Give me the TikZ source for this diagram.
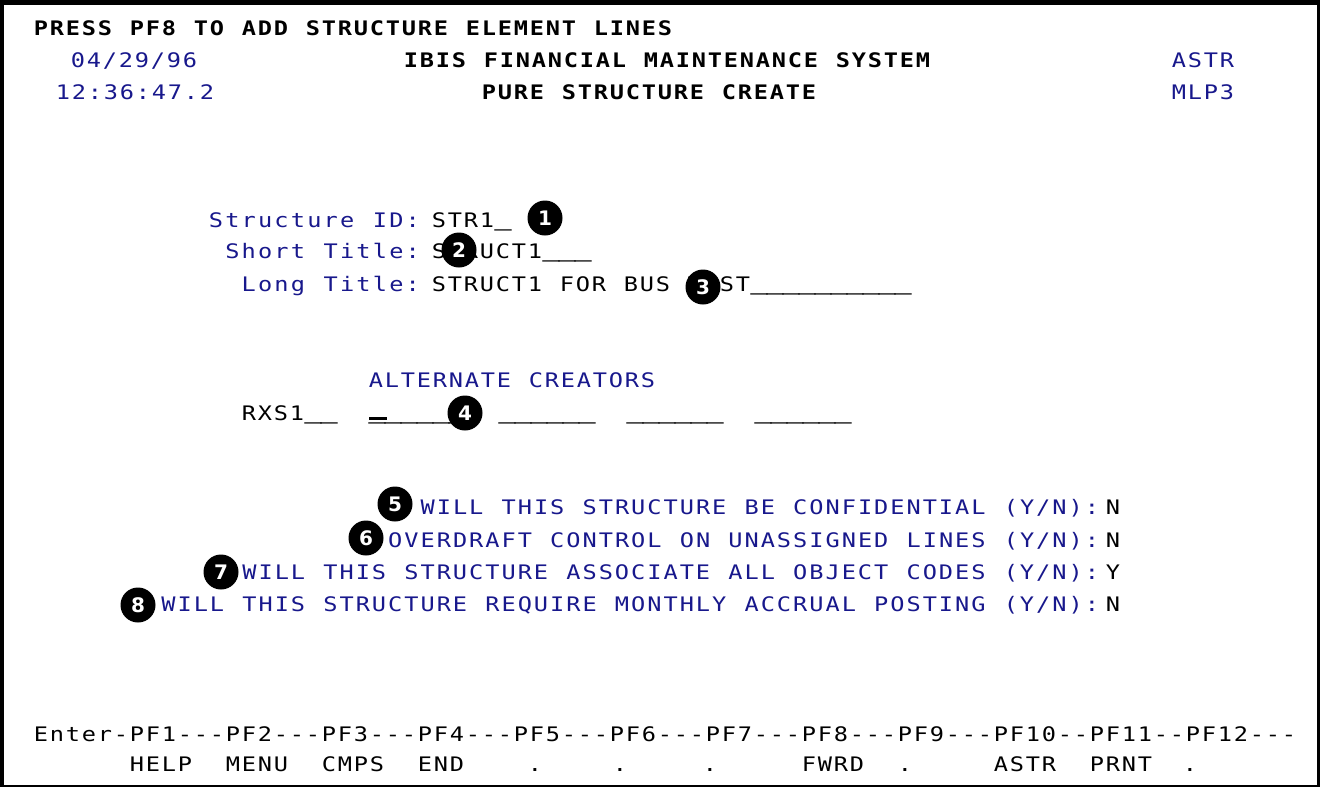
\documentclass[tikz,border=0pt]{standalone}
\usepackage{fontspec}
\usepackage{graphicx}
\setmonofont{DejaVu Sans Mono}
\newfontfamily\numfont{DejaVu Sans}
\definecolor{screenblue}{RGB}{24,24,140}

% Terminal text: every character sits in a fixed-width cell and is widened
% a little; underscores are stretched so a run of them forms one field line.
\ExplSyntaxOn
\NewDocumentCommand \cells { O{16pt} m }
  {
    \str_map_inline:nn {#2}
      {
        \str_if_eq:nnTF {##1} {_}
          { \makebox[#1]{\raisebox{3.5pt}{\scalebox{1.45}[1.6]{\textunderscore}}} }
          { \makebox[#1]{\scalebox{1.18}[1]{##1}} }
      }
  }
\ExplSyntaxOff

\tikzset{
  txt/.style={inner sep=0pt, outer sep=0pt, anchor=base west,
              font=\ttfamily\fontsize{20}{24}\selectfont},
  hdr/.style={txt, text=black, font=\ttfamily\bfseries\fontsize{20}{24}\selectfont},
  lbl/.style={txt, text=screenblue},
  val/.style={txt, text=black},
  callout/.style={circle, fill=black, minimum size=35pt, inner sep=0pt,
                  text=white, font=\numfont\bfseries\fontsize{20}{20}\selectfont},
}

\begin{document}
\begin{tikzpicture}[x=1pt,y=-1pt]
\useasboundingbox (0,0) rectangle (1320,787);
% screen frame
\fill[black] (0,0) rectangle (1320,787);
\fill[white] (4,5) rectangle (1317,785);

% header lines
\node[hdr] (press) at (33,35) {\cells{PRESS PF8 TO ADD STRUCTURE ELEMENT LINES}};
\node[lbl] (date) at (70,67) {\cells{04/29/96}};
\node[hdr] (sys) at (403,67) {\cells{IBIS FINANCIAL MAINTENANCE SYSTEM}};
\node[lbl] (tran) at (1171,67) {\cells{ASTR}};
\node[lbl] (time) at (55,99) {\cells{12:36:47.2}};
\node[hdr] (scr) at (481,99) {\cells{PURE STRUCTURE CREATE}};
\node[lbl] (term) at (1171,99) {\cells{MLP3}};

% structure identification fields
\node[lbl, anchor=base east] (idl) at (421,227) {\cells[16.4pt]{Structure ID:}};
\node[val] (idv) at (431,227) {\cells{STR1_}};
\node[lbl, anchor=base east] (stl) at (421,258) {\cells[16.4pt]{Short Title:}};
\node[val] (stv) at (431,258) {\cells{STRUCT1___}};
\node[lbl, anchor=base east] (ltl) at (421,291) {\cells[16.4pt]{Long Title:}};
\node[val] (ltv) at (431,291) {\cells{STRUCT1 FOR BUS TEST__________}};

% alternate creators
\node[lbl] (alt) at (368,387) {\cells{ALTERNATE CREATORS}};
\node[val] (cr0) at (241,420) {\cells{RXS1__}};
\node[val] (cr1) at (369,420) {\cells{______}};
\node[val] (cr2) at (499,420) {\cells{______}};
\node[val] (cr3) at (627,420) {\cells{______}};
\node[val] (cr4) at (755,420) {\cells{______}};
% cursor in the first creator field
\fill[black] (cr1.base west) ++(0,-3) rectangle ++(18,3);

% yes/no options
\node[lbl, anchor=base east] (q5) at (1100,514) {\cells[16.2pt]{WILL THIS STRUCTURE BE CONFIDENTIAL (Y/N):}};
\node[val, anchor=base] (a5) at (1113,514) {\cells{N}};
\node[lbl, anchor=base east] (q6) at (1100,547) {\cells[16.2pt]{OVERDRAFT CONTROL ON UNASSIGNED LINES (Y/N):}};
\node[val, anchor=base] (a6) at (1113,547) {\cells{N}};
\node[lbl, anchor=base east] (q7) at (1100,579) {\cells[16.2pt]{WILL THIS STRUCTURE ASSOCIATE ALL OBJECT CODES (Y/N):}};
\node[val, anchor=base] (a7) at (1113,579) {\cells{Y}};
\node[lbl, anchor=base east] (q8) at (1100,611) {\cells[16.2pt]{WILL THIS STRUCTURE REQUIRE MONTHLY ACCRUAL POSTING (Y/N):}};
\node[val, anchor=base] (a8) at (1113,611) {\cells{N}};

% function key line
\node[val] (keys) at (33,741) {\cells{Enter-PF1---PF2---PF3---PF4---PF5---PF6---PF7---PF8---PF9---PF10--PF11--PF12---}};
\node[val] (k1) at (129,771) {\cells{HELP}};
\node[val] (k2) at (225,771) {\cells{MENU}};
\node[val] (k3) at (321,771) {\cells{CMPS}};
\node[val] (k4) at (417,771) {\cells{END}};
\node[val, anchor=base] (k5) at (535,771) {\cells{.}};
\node[val, anchor=base] (k6) at (620,771) {\cells{.}};
\node[val, anchor=base] (k7) at (710,771) {\cells{.}};
\node[val] (k8) at (801,771) {\cells{FWRD}};
\node[val, anchor=base] (k9) at (905,771) {\cells{.}};
\node[val] (k10) at (993,771) {\cells{ASTR}};
\node[val] (k11) at (1089,771) {\cells{PRNT}};
\node[val, anchor=base] (k12) at (1190,771) {\cells{.}};

% numbered callouts
\node[callout] (c1) at (545,218) {1};
\node[callout] (c2) at (459,250) {2};
\node[callout] (c3) at (703,287) {3};
\node[callout] (c4) at (465,413) {4};
\node[callout] (c5) at (395,504) {5};
\node[callout] (c6) at (366,538) {6};
\node[callout] (c7) at (221,572) {7};
\node[callout] (c8) at (138,605) {8};
\end{tikzpicture}
\end{document}
